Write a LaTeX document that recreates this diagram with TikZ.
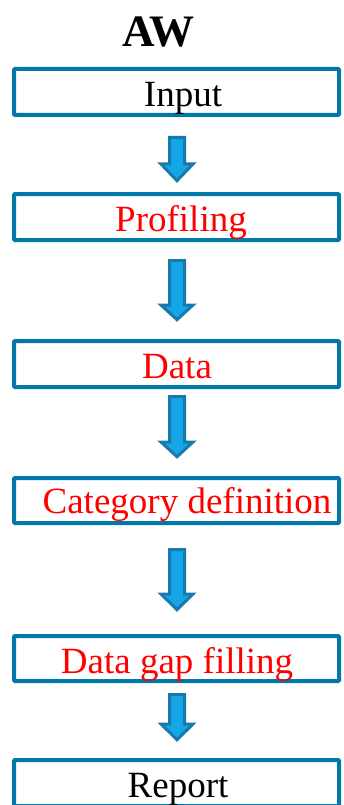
\documentclass[tikz,border=0pt]{standalone}
\usepackage{fontspec}
\setmainfont{Liberation Serif}
\usetikzlibrary{calc}
\definecolor{boxblue}{RGB}{0,120,168}
\definecolor{arrout}{RGB}{22,122,172}
\definecolor{arrin}{RGB}{20,166,230}
\definecolor{txtred}{RGB}{255,0,0}
\tikzset{
  flowbox/.style={draw=boxblue, line width=4pt, fill=white, rectangle, rounded corners=1pt,
    minimum width=325pt, inner sep=0pt, outer sep=0pt},
  lbl/.style={font=\fontsize{37}{40}\selectfont, inner sep=0pt, anchor=base},
  redlbl/.style={lbl, text=txtred},
  flowarr/.style={draw=arrout, fill=arrin, line width=3pt, line join=miter}
}
\newcommand\bigarrow[4]{% name, shaft top y, head top y, tip y
  \coordinate (#1s) at (177,#2);
  \coordinate (#1t) at (177,#4);
  \draw[flowarr] ($(#1s)+(-7.5,0)$) -- ($(#1s)+(7.5,0)$) -- (184.5,#3) -- (193,#3) -- (#1t) -- (161,#3) -- (169.5,#3) -- cycle;}
\begin{document}
\begin{tikzpicture}[x=1pt,y=-1pt]
\useasboundingbox (0,0) rectangle (343,805);
\node[font=\bfseries\fontsize{45}{48}\selectfont, inner sep=0pt, anchor=base] (title) at (158.5,47) {AW};
\node[flowbox, minimum height=46pt] (input) at (176.5,92) {};
\node[lbl] (tinput) at (183,107) {Input};
\node[flowbox, minimum height=46pt] (prof) at (176.5,217) {};
\node[redlbl] (tprof) at (181,231) {Profiling};
\node[flowbox, minimum height=46pt] (data) at (176.5,364) {};
\node[redlbl] (tdata) at (177,378) {Data};
\node[flowbox, minimum height=45pt] (cat) at (176.5,500.5) {};
\node[redlbl] (tcat) at (187,513) {Category definition};
\node[flowbox, minimum height=45pt] (gap) at (176.5,658.5) {};
\node[redlbl] (tgap) at (177,673) {Data gap filling};
\node[flowbox, minimum height=46pt] (report) at (176.5,783) {};
\node[lbl] (treport) at (178,797) {Report};
\bigarrow{a1}{137.5}{164}{180.7}
\bigarrow{a2}{260.5}{305}{319.7}
\bigarrow{a3}{396.5}{442}{456.7}
\bigarrow{a4}{549.5}{594}{609.7}
\bigarrow{a5}{694.5}{724}{739.7}
\end{tikzpicture}
\end{document}
